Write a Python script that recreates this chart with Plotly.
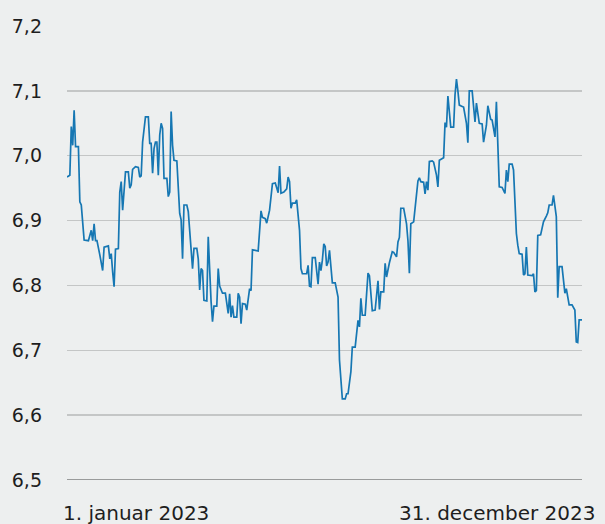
import pandas as pd
import plotly.graph_objects as go

# Day offsets from 2 January 2023 and the exchange rate
days = [0, 2, 3, 4, 5, 6, 8, 9, 10, 11, 12, 15, 17, 18, 19, 20, 21, 23, 25, 26, 28, 29, 30, 31, 32, 33, 34, 36,
        37, 38, 39, 41, 43, 44, 45, 46, 48, 50, 51, 52, 53, 55, 57, 58, 59, 60, 61, 62, 63, 64, 65, 66, 67, 68,
        70, 71, 72, 73, 74, 75, 77, 79, 80, 81, 82, 84, 85, 86, 88, 89, 91, 92, 93, 94, 95, 96, 98, 99, 100, 101,
        102, 103, 105, 106, 107, 109, 111, 113, 114, 115, 116, 117, 119, 120, 121, 122, 123, 125, 126, 128, 129,
        130, 132, 134, 136, 137, 139, 140, 142, 144, 146, 148, 149, 150, 152, 154, 155, 156, 157, 158, 160, 161,
        163, 164, 165, 168, 169, 170, 171, 172, 174, 176, 177, 178, 179, 180, 181, 182, 183, 184, 186, 188, 190,
        191, 193, 195, 196, 197, 199, 200, 202, 204, 205, 206, 207, 209, 211, 212, 214, 216, 218, 219, 220, 222,
        223, 224, 226, 228, 229, 231, 232, 233, 234, 236, 238, 239, 240, 241, 243, 245, 246, 247, 248, 250, 251,
        252, 253, 254, 256, 257, 259, 260, 261, 264, 265, 266, 267, 269, 271, 272, 273, 274, 275, 277, 278, 280,
        281, 282, 284, 286, 287, 289, 291, 292, 294, 295, 297, 298, 300, 301, 303, 305, 307, 308, 309, 310, 312,
        313, 315, 316, 317, 319, 320, 321, 322, 323, 326, 327, 328, 329, 330, 332, 333, 334, 336, 337, 338, 340,
        341, 342, 343, 344, 345, 347, 349, 350, 351, 352, 354, 356, 357, 358, 359, 361]

rate = [6.967, 6.970, 7.045, 7.016, 7.070, 7.014, 7.014, 6.929, 6.924, 6.898, 6.870, 6.869, 6.885, 6.869, 6.895,
        6.869, 6.869, 6.847, 6.823, 6.859, 6.861, 6.861, 6.841, 6.849, 6.821, 6.798, 6.856, 6.857,
        6.944, 6.960, 6.916, 6.975, 6.975, 6.950, 6.955, 6.979, 6.983, 6.982, 6.967, 6.969, 7.021, 7.060, 7.060,
        7.019, 7.019, 6.973, 7.011, 7.021, 7.021, 6.970, 7.032, 7.050, 7.042, 6.965,
        6.965, 6.937, 6.944, 7.068, 7.016, 6.993, 6.992, 6.911, 6.901, 6.841, 6.924, 6.924, 6.914, 6.880, 6.826,
        6.857, 6.857, 6.841, 6.793, 6.826, 6.823, 6.777, 6.776, 6.875, 6.811, 6.775,
        6.744, 6.768, 6.768, 6.826, 6.799, 6.788, 6.788, 6.757, 6.787, 6.751, 6.769, 6.751, 6.751, 6.788, 6.782,
        6.741, 6.772, 6.771, 6.762, 6.795, 6.792,
        6.855, 6.854, 6.853, 6.915, 6.905, 6.903, 6.896, 6.916, 6.957, 6.958, 6.943, 6.984, 6.942, 6.944, 6.949,
        6.967, 6.960, 6.919, 6.927, 6.927, 6.932,
        6.885, 6.826, 6.818, 6.818, 6.831, 6.799, 6.798, 6.843, 6.843, 6.802, 6.836, 6.823, 6.839, 6.864, 6.860,
        6.830, 6.836, 6.854, 6.804, 6.804, 6.782,
        6.685, 6.625, 6.625, 6.633, 6.633, 6.667, 6.705, 6.705, 6.746, 6.736, 6.780, 6.754, 6.754, 6.819, 6.815,
        6.761, 6.762, 6.807, 6.763, 6.790, 6.790,
        6.834, 6.813, 6.835, 6.852, 6.851, 6.844, 6.867, 6.874, 6.919, 6.919, 6.895, 6.869, 6.819, 6.895, 6.898,
        6.934, 6.961, 6.966, 6.960, 6.959, 6.941,
        6.960, 6.947, 6.991, 6.992, 6.990, 6.970, 6.952, 6.993, 6.997, 7.051, 7.044, 7.092, 7.044, 7.044, 7.094,
        7.118, 7.100, 7.078, 7.076, 7.075, 7.050,
        7.020, 7.100, 7.100, 7.052, 7.081, 7.050, 7.049, 7.021, 7.047, 7.077, 7.056, 7.055, 7.029, 7.083, 6.952,
        6.951, 6.942, 6.978, 6.960, 6.987, 6.987,
        6.978, 6.880, 6.862, 6.849, 6.848, 6.816, 6.818, 6.859, 6.816, 6.815, 6.818, 6.790, 6.792, 6.877, 6.878,
        6.891, 6.898, 6.907, 6.912, 6.924, 6.924,
        6.939, 6.921, 6.906, 6.781, 6.829, 6.829, 6.788, 6.795, 6.785, 6.770, 6.770, 6.762, 6.713, 6.712, 6.747,
        6.747]

y_ticks = [6.5, 6.6, 6.7, 6.8, 6.9, 7.0, 7.1, 7.2]
x_labels = ["1. januar 2023", "31. december 2023"]
start = "2023-01-02"

dates = pd.Timestamp(start) + pd.to_timedelta(days, unit="D")

BG = "#edefef"
FONT = "DejaVu Sans"

fig = go.Figure()
fig.add_trace(go.Scatter(x=dates, y=rate, mode="lines",
                         line=dict(color="#1677b3", width=1.7), hoverinfo="skip"))

fig.update_layout(
    width=605, height=524,
    margin=dict(l=67, r=23, t=26, b=44),
    paper_bgcolor=BG, plot_bgcolor=BG,
    separators=",.",
    showlegend=False,
    font=dict(family=FONT, size=19, color="#1e1e1e"),
    xaxis=dict(range=[dates[0], dates[-1]], showgrid=False, showticklabels=False,
               zeroline=False, showline=False, ticks=""),
    yaxis=dict(range=[6.5, 7.2], tickvals=y_ticks, tickformat=".1f",
               gridcolor="#c4c6c6", gridwidth=1.4, zeroline=False, showline=False,
               ticks="", ticklabelstandoff=24),
)
# darker baseline at 6,5
fig.add_shape(type="line", xref="paper", yref="y", x0=0, x1=1, y0=6.5, y1=6.5,
              line=dict(color="#999b9b", width=2))
fig.add_annotation(text=x_labels[0], xref="paper", yref="paper", x=-0.012, y=0,
                   xanchor="left", yanchor="middle", yshift=-33, showarrow=False,
                   font=dict(size=20))
fig.add_annotation(text=x_labels[1], xref="paper", yref="paper", x=1.03, y=0,
                   xanchor="right", yanchor="middle", yshift=-33, showarrow=False,
                   font=dict(size=20))

fig.write_html("out.html", config={"displayModeBar": False, "staticPlot": True},
               post_script="document.body.style.margin='0';document.body.style.background='%s';" % BG)
